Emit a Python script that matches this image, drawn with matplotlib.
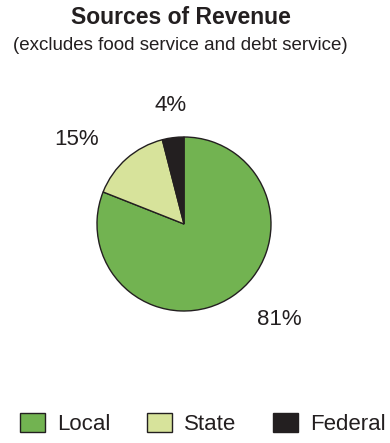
import matplotlib

matplotlib.use("Agg")

import matplotlib.pyplot as plt
from matplotlib.patches import Patch

plt.rcParams["font.family"] = ["Liberation Sans", "DejaVu Sans"]

sources = ["Local", "State", "Federal"]
shares = [81, 15, 4]
colors = ["#72b351", "#d7e39b", "#231f20"]
# label centres, in pie radii from the pie centre
label_xy = [(1.09, -1.10), (-1.23, 0.97), (-0.16, 1.36)]

W, H = 390, 443
CX, CY, R = 184, 443 - 224, 87  # pie centre and radius in pixels

fig = plt.figure(figsize=(W / 100, H / 100), dpi=100)
ax = fig.add_axes([0, 0, 1, 1])
ax.axis("off")

ax.pie(
    shares,
    colors=colors,
    startangle=90,
    counterclock=False,
    radius=1.0,
    wedgeprops={"edgecolor": "#231f20", "linewidth": 1.0},
)
ax.set_xlim(-CX / R, (W - CX) / R)
ax.set_ylim(-CY / R, (H - CY) / R)
ax.set_aspect("equal")

for share, (lx, ly) in zip(shares, label_xy):
    ax.text(lx, ly, f"{share}%", ha="center", va="center", fontsize=16, color="#231f20")

fig.text(0.465, 1 - 17 / H, "Sources of Revenue", ha="center", va="center",
         fontsize=16.5, fontweight="bold", color="#231f20")
fig.text(0.462, 1 - 45 / H, "(excludes food service and debt service)", ha="center",
         va="center", fontsize=13.5, color="#231f20")

handles = [Patch(facecolor=c, edgecolor="#231f20", linewidth=1.0) for c in colors]
fig.legend(
    handles,
    sources,
    loc="center left",
    bbox_to_anchor=(20 / W, 1 - 424 / H),
    ncol=3,
    frameon=False,
    fontsize=16,
    borderpad=0,
    borderaxespad=0,
    handlelength=1.12,
    handleheight=0.9,
    handletextpad=0.55,
    columnspacing=1.65,
    labelcolor="#231f20",
)

fig.savefig("out.png", dpi=100)
plt.close(fig)
